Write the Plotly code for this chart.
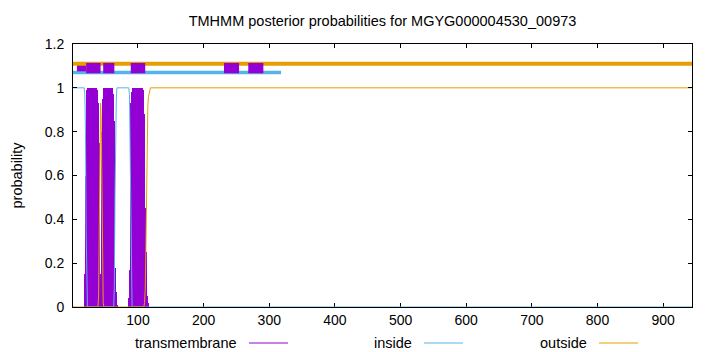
import plotly.graph_objects as go

# ---------------- data ----------------
title_text = "TMHMM posterior probabilities for MGYG000004530_00973"
seq_len = 944

# transmembrane posterior (residues with non-zero probability), drawn as impulses
tm_res = [19, 20, 21, 22, 23, 24, 25, 26, 27, 28, 29, 30, 31, 32, 33, 34, 35, 36,
          37, 38, 39, 40, 41, 42, 43, 44, 45, 46, 47, 48, 49, 50, 51, 52, 53, 54,
          55, 56, 57, 58, 59, 60, 61, 62, 63, 64, 65, 66, 67, 68,
          86, 87, 88, 89, 90, 91, 92, 93, 94, 95, 96, 97, 98, 99, 100, 101, 102,
          103, 104, 105, 106, 107, 108, 109, 110, 111, 112, 113, 114, 115]
tm_prob = [0.02, 0.15, 0.6, 0.95, 0.99, 1.0, 1.0, 1.0, 1.0, 1.0, 1.0, 1.0, 1.0, 1.0, 1.0, 1.0, 1.0, 1.0,
           0.99, 0.98, 0.93, 0.75, 0.45, 0.15, 0.03, 0.08, 0.4, 0.8, 0.95, 0.99, 1.0, 1.0, 1.0, 1.0, 1.0, 1.0,
           1.0, 1.0, 1.0, 1.0, 1.0, 1.0, 0.99, 0.97, 0.85, 0.55, 0.18, 0.07, 0.03, 0.01,
           0.01, 0.04, 0.17, 0.6, 0.93, 0.98, 1.0, 1.0, 1.0, 1.0, 1.0, 1.0, 1.0, 1.0, 1.0, 1.0, 1.0,
           1.0, 1.0, 1.0, 1.0, 0.99, 0.96, 0.88, 0.7, 0.45, 0.25, 0.12, 0.05, 0.02]

# inside posterior (breakpoints)
in_res = [1, 18, 19, 20, 21, 22, 23, 63, 64, 65, 66, 67, 68, 86, 87, 88, 89, 90, 91, 944]
in_prob = [1.0, 1.0, 0.97, 0.8, 0.35, 0.04, 0.0, 0.0, 0.1, 0.5, 0.85, 0.95, 1.0, 1.0, 0.97, 0.7, 0.25, 0.03, 0.0, 0.0]

# outside posterior (breakpoints)
out_res = [1, 39, 40, 41, 42, 43, 44, 45, 46, 47, 48, 109, 110, 111, 112, 113, 114, 115, 116, 117, 118, 119, 944]
out_prob = [0.0, 0.0, 0.05, 0.3, 0.75, 0.93, 0.85, 0.45, 0.1, 0.02, 0.0, 0.0, 0.02, 0.08, 0.25, 0.5, 0.78, 0.92,
            0.96, 0.98, 0.99, 1.0, 1.0]

# predicted topology segments (start, end)
top_inside = [(1, 318)]
top_outside = [(1, 944)]
top_tm_minor = [(7, 21)]
top_tm = [(21, 43), (47, 64), (89, 111), (231, 254), (268, 291)]
level_inside, level_tm, level_outside = 1.07, 1.09, 1.11

legend_labels = ["transmembrane", "inside", "outside"]

# ---------------- styling ----------------
C_TM = "#9400D3"
C_IN = "#56B4E9"
C_OUT = "#E69F00"
FONT = "Liberation Sans"

fig = go.Figure()

fig.add_trace(go.Bar(x=tm_res, y=tm_prob, width=1.7, marker=dict(color=C_TM, line=dict(width=0)),
                     showlegend=False))
fig.add_trace(go.Scatter(x=in_res, y=in_prob, mode="lines", line=dict(color=C_IN, width=1), showlegend=False))
fig.add_trace(go.Scatter(x=out_res, y=out_prob, mode="lines", line=dict(color=C_OUT, width=1), showlegend=False))


def seg_trace(segs, level, color, width):
    xs, ys = [], []
    for a, b in segs:
        xs += [a, b, None]
        ys += [level, level, None]
    return go.Scatter(x=xs, y=ys, mode="lines", line=dict(color=color, width=width), showlegend=False,
                      connectgaps=False)


fig.add_trace(seg_trace(top_inside, level_inside, C_IN, 3.3))
fig.add_trace(seg_trace(top_tm_minor, level_tm, C_TM, 6.5))
fig.add_trace(seg_trace(top_outside, level_outside, C_OUT, 4))
fig.add_trace(seg_trace(top_tm, level_tm, C_TM, 10.3))

# plot-area geometry (pixels)
L, R, T, B = 73, 28, 44, 45
W, H = 720, 352
pw, ph = W - L - R, H - T - B


def px_x(p):
    return (p - L) / pw


def px_y(p):
    return (H - B - p) / ph


# manual gnuplot-style key: text then sample line
key_text_right = [239, 414, 589]
key_colors = [C_TM, C_IN, C_OUT]
key_y = 343
shapes = []
annotations = []
for lab, xr, col in zip(legend_labels, key_text_right, key_colors):
    annotations.append(dict(text=lab, x=px_x(xr), y=px_y(key_y), xref="paper", yref="paper",
                            xanchor="right", yanchor="middle", showarrow=False,
                            font=dict(family=FONT, size=14.5, color="#000")))
    shapes.append(dict(type="line", xref="paper", yref="paper", x0=px_x(xr + 10), x1=px_x(xr + 49),
                       y0=px_y(key_y), y1=px_y(key_y), line=dict(color=col, width=1)))

annotations.append(dict(text="probability", x=px_x(16), y=0.5, xref="paper", yref="paper",
                        xanchor="center", yanchor="middle", textangle=-90, showarrow=False,
                        font=dict(family=FONT, size=14.5, color="#000")))

fig.update_layout(
    width=W, height=H,
    margin=dict(l=L, r=R, t=T, b=B, pad=0),
    paper_bgcolor="white", plot_bgcolor="white",
    title=dict(text=title_text, x=0.5, xref="paper", xanchor="center", y=1 - 21 / H, yanchor="middle",
               font=dict(family=FONT, size=14.5, color="#000")),
    font=dict(family=FONT, size=14, color="#000"),
    bargap=0,
    shapes=shapes,
    annotations=annotations,
    showlegend=False,
)
axis_common = dict(showgrid=False, zeroline=False, showline=True, linecolor="black", linewidth=1,
                   mirror="ticks", ticks="inside", ticklen=4, tickcolor="black", tickwidth=1,
                   tickfont=dict(family=FONT, size=14, color="#000"))
fig.update_xaxes(range=[1, seq_len], tick0=0, dtick=100, layer="below traces", **axis_common)
fig.update_yaxes(range=[0, 1.2], tick0=0, dtick=0.2, ticklabelstandoff=5, **axis_common)

fig.write_html("out.html")
